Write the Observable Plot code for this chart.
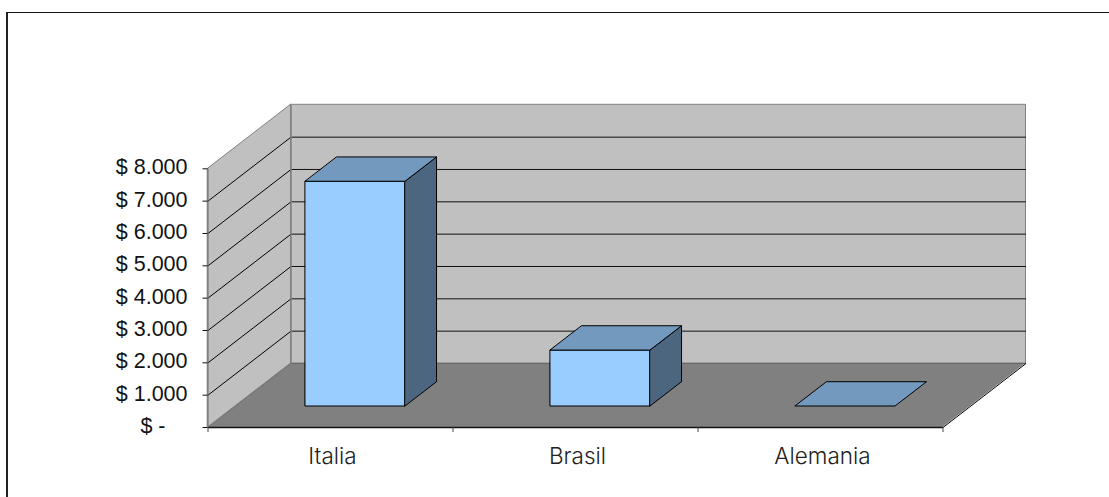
<!DOCTYPE html>
<html>
<head>
<meta charset="utf-8">
<script src="https://cdn.jsdelivr.net/npm/d3@7"></script>
<script src="https://cdn.jsdelivr.net/npm/@observablehq/plot@0.6"></script>
<style>
  html, body { margin: 0; padding: 0; background: #fff; overflow: hidden; }
  #sheet { position: absolute; left: 6px; top: 12px; right: 0; bottom: 0;
           border-left: 2px solid #222; border-top: 1px solid #111; }
  #chart { position: absolute; left: 0; top: 0; }
  #chart svg { display: block; background: transparent; }
</style>
</head>
<body>
<div id="sheet"></div>
<div id="chart"></div>
<script>
const categories = ["Italia", "Brasil", "Alemania"];
const values = [6950, 1730, 0];
const yTicks = [1000, 2000, 3000, 4000, 5000, 6000, 7000, 8000];
const categoryEdges = [0, 1, 2, 3];
const yMax = 8000;

// Oblique projection: t runs 0..1 from the front of the floor to the back wall.
const depthX = 83 / 245;
const depthY = 1979;
const at = (cat, val, t) => ({x: cat + t * depthX, y: val + t * depthY});

// Bar footprint inside its category slot and along the depth axis.
const barStart = 0.288, barWidth = 0.407;
const barFront = 0.328, barBack = 0.708;

// A four-sided face as a two-point area: edge a-b on one side, d-c on the other.
function face(a, b, c, d, options) {
  return Plot.area(
    [{x1: a.x, y1: a.y, x2: d.x, y2: d.y}, {x1: b.x, y1: b.y, x2: c.x, y2: c.y}],
    {x1: "x1", y1: "y1", x2: "x2", y2: "y2", ...options}
  );
}
function edge(p, q, options) {
  return Plot.link([{p, q}], {x1: d => d.p.x, y1: d => d.p.y, x2: d => d.q.x, y2: d => d.q.y, ...options});
}

const wallGray = {fill: "#c0c0c0", stroke: "#808080", strokeWidth: 1};
const lastCat = categoryEdges[categoryEdges.length - 1];

const room = [
  face(at(0, 0, 1), at(lastCat, 0, 1), at(lastCat, yMax, 1), at(0, yMax, 1), wallGray),
  face(at(0, 0, 0), at(0, 0, 1), at(0, yMax, 1), at(0, yMax, 0), wallGray),
  ...yTicks.filter(v => v < yMax).flatMap(v => [
    edge(at(0, v, 0), at(0, v, 1), {stroke: "#000", strokeWidth: 1}),
    edge(at(0, v, 1), at(lastCat, v, 1), {stroke: "#111", strokeWidth: 1})
  ]),
  face(at(0, 0, 0), at(lastCat, 0, 0), at(lastCat, 0, 1), at(0, 0, 1), {fill: "#808080"}),
  edge(at(0, 0, 1), at(lastCat, 0, 1), {stroke: "#666", strokeWidth: 1}),
  edge(at(0, 0, 0), at(0, 0, 1), {stroke: "#777", strokeWidth: 1}),
  edge(at(0, 0, 1), at(0, yMax, 1), {stroke: "#808080", strokeWidth: 1.5}),
  edge(at(lastCat, 0, 0), at(lastCat, 0, 1), {stroke: "#000", strokeWidth: 1}),
  edge(at(0, 0, 0), at(lastCat, 0, 0), {stroke: "#111", strokeWidth: 1.5}),
  edge(at(0, 0, 0), at(0, yMax, 0), {stroke: "#666", strokeWidth: 1})
];

const outline = {stroke: "#000", strokeWidth: 1, strokeLinejoin: "miter"};
const bars = categories.flatMap((name, i) => {
  const l = i + barStart, r = l + barWidth, v = values[i];
  const parts = [];
  if (v > 0) {
    parts.push(face(at(l, 0, barFront), at(r, 0, barFront), at(r, v, barFront), at(l, v, barFront),
      {fill: "#99ccff", ...outline}));
    parts.push(face(at(r, 0, barFront), at(r, 0, barBack), at(r, v, barBack), at(r, v, barFront),
      {fill: "#4d6680", ...outline}));
  }
  parts.push(face(at(l, v, barFront), at(r, v, barFront), at(r, v, barBack), at(l, v, barBack),
    {fill: "#7399bf", ...outline}));
  return parts;
});

const money = d => "$ " + d3.format(",")(d).replace(/,/g, ".");
const axisFont = {fontFamily: "Liberation Sans", fontSize: 21.5, fill: "#111"};

const plot = Plot.plot({
  width: 1109,
  height: 497,
  marginLeft: 207.5,
  marginRight: 166.5,
  marginTop: 168.3,
  marginBottom: 70,
  style: {background: "transparent", overflow: "visible"},
  x: {type: "linear", domain: [0, lastCat], axis: null},
  y: {type: "linear", domain: [0, yMax], axis: null},
  marks: [
    ...room,
    ...bars,
    Plot.axisY(yTicks, {
      anchor: "left", tickSize: 0, tickPadding: 20.5, label: null, dy: -1.5,
      tickFormat: money, ...axisFont, textAnchor: "end"
    }),
    Plot.axisY([0, ...yTicks], {anchor: "left", tickSize: 5, label: null, fill: "none", stroke: "#111"}),
    Plot.text([0], {
      y: d => d, frameAnchor: "left", textAnchor: "end", dx: -42.5, dy: -1.5,
      text: () => "$ -", ...axisFont
    }),
    Plot.axisX(categoryEdges, {
      anchor: "bottom", tickSize: 5, tickPadding: 0, label: null, fill: "none", stroke: "#444"
    }),
    Plot.text(categories, {
      x: (d, i) => i + 0.5, y: 0, dy: 29.7, dx: 2, text: d => d,
      fontFamily: "Inter", fontSize: 22.5, fontWeight: 300, fill: "#222"
    })
  ]
});
document.getElementById("chart").appendChild(plot);
</script>
</body>
</html>
